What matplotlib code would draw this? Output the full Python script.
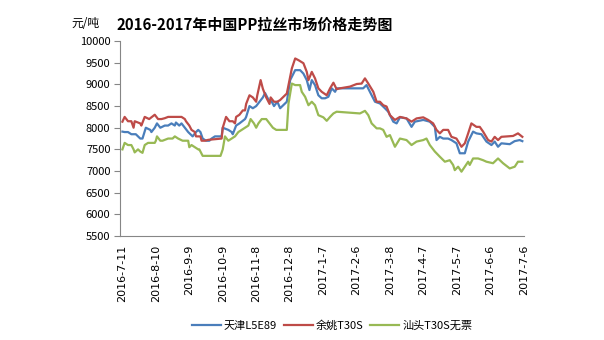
import matplotlib
matplotlib.use('Agg')
import numpy as np
import pandas as pd
import matplotlib.pyplot as plt

plt.rcParams['font.family'] = ['Noto Sans CJK SC', 'DejaVu Sans']

start = pd.Timestamp('2016-07-11')

# 天津L5E89 (days from 2016-7-11, price)
tj_day = [0, 2, 5, 8, 12, 16, 18, 21, 25, 26, 29, 31, 34, 38, 41, 44, 47, 48, 51, 53,
          56, 59, 63, 66, 68, 70, 72, 75, 78, 80, 83, 89, 90, 95, 98, 99, 102, 105, 110, 111,
          114, 117, 120, 123, 126, 128, 131, 134, 136, 139, 141.5, 147.5, 150.5, 155, 159.4, 162.4, 165.4, 167.8, 169.9, 172.8,
          175.8, 178.8, 181.8, 184.8, 187.8, 190.8, 192.2, 216, 219, 223.6, 226.6, 231.1, 235.5, 238.5, 243, 246, 249, 254.9, 259.4, 262.4,
          269.9, 275.8, 280.3, 281.8, 284.8, 287.8, 292.2, 295.2, 299.7, 302.7, 307.2, 310.2, 314.6, 317.6, 322.1, 326.6, 331.1, 334, 337, 340,
          347.5, 351.9, 356.4, 358.8]
tj_val = [7910, 7900, 7900, 7850, 7850, 7750, 7750, 8000, 7950, 7900, 8000, 8100, 8000, 8050, 8050, 8100, 8050, 8120, 8050, 8100,
          8000, 7900, 7800, 7900, 7950, 7900, 7750, 7700, 7700, 7750, 7800, 7800, 8000, 7950, 7900, 7850, 8050, 8100, 8200, 8250,
          8500, 8450, 8500, 8600, 8700, 8800, 8650, 8600, 8500, 8600, 8450, 8600, 9100, 9330, 9330, 9250, 9100, 8870, 9100, 8985,
          8750, 8680, 8680, 8715, 8910, 8830, 8910, 8910, 8985, 8750, 8600, 8560, 8450, 8370, 8140, 8100, 8240, 8215, 8020, 8140,
          8180, 8140, 8020, 7715, 7790, 7750, 7750, 7715, 7640, 7410, 7410, 7680, 7910, 7870, 7850, 7680, 7600, 7680, 7560, 7640,
          7620, 7690, 7715, 7690]

# 余姚T30S
yy_day = [0, 2, 5, 8, 10, 11, 16, 17, 20, 24, 29, 32, 35, 38, 41, 53, 56, 57, 60, 62,
          65, 66, 70, 71, 74, 77, 89, 90, 93, 96, 99, 101, 102, 105, 108, 110, 111, 114, 117, 120,
          121, 124, 126, 129, 132, 133, 136, 139, 141.5, 147.5, 152, 155, 158, 162.4, 165.4, 166.9, 169.9, 172.8, 175.8, 178.8,
          183.3, 186.3, 189.3, 192.2, 195.2, 204.2, 210.2, 214.6, 217.6, 220.6, 225.1, 228.1, 231.1, 234, 237, 240, 244.5, 249, 254.9, 259.4,
          263.9, 269.9, 274.3, 278.8, 281.8, 284.8, 287.8, 292.2, 295.2, 299.7, 304.2, 307.2, 310.2, 313.1, 317.6, 320.6, 323.6, 328.1, 331.1, 334,
          337, 340, 350.5, 354.9, 358.8]
yy_val = [8140, 8250, 8150, 8150, 8000, 8150, 8100, 8050, 8250, 8200, 8300, 8200, 8200, 8220, 8250, 8250, 8200, 8150, 8050, 7950,
          7900, 7800, 7800, 7700, 7700, 7720, 7750, 8000, 8250, 8150, 8150, 8100, 8250, 8300, 8400, 8400, 8550, 8750, 8700, 8600,
          8750, 9100, 8900, 8700, 8550, 8700, 8600, 8600, 8640, 8790, 9370, 9600, 9560, 9490, 9290, 9100, 9290, 9140, 8910, 8830,
          8750, 8910, 9040, 8890, 8910, 8950, 9010, 9020, 9140, 9020, 8830, 8600, 8600, 8520, 8490, 8290, 8180, 8250, 8215, 8140,
          8215, 8240, 8180, 8100, 7950, 7870, 7950, 7950, 7790, 7750, 7560, 7640, 7870, 8100, 8020, 8020, 7910, 7715, 7680, 7790,
          7715, 7790, 7810, 7870, 7790]

# 汕头T30S无票
st_day = [0, 2, 5, 8, 10, 11, 14, 16, 18, 20, 23, 29, 30, 31, 34, 36, 41, 45, 47, 50,
          54, 59, 60, 62, 65, 68, 69, 72, 88, 90, 92, 95, 98, 101, 104, 107, 110, 113, 115, 118,
          120, 122, 125, 129, 132, 135, 138, 141.5, 147.5, 149, 152, 155, 159.4, 160.9, 163.9, 166.9, 169.9, 172.8, 175.8, 180.3,
          183.3, 186.3, 189.3, 192.2, 213.1, 217.6, 220.6, 223.6, 228.1, 231.1, 234, 237, 240, 244.5, 249, 254.9, 259.4, 263.9, 269.9, 272.8,
          275.8, 280.3, 284.8, 289.3, 293.7, 296.7, 298.2, 301.2, 304.2, 307.2, 310.2, 311.6, 314.6, 319.1, 323.6, 326.6, 332.5, 337, 341.5, 347.5,
          352, 354.9, 358.8]
st_val = [7500, 7650, 7600, 7600, 7500, 7430, 7500, 7450, 7420, 7600, 7650, 7650, 7700, 7800, 7700, 7700, 7750, 7750, 7800, 7750,
          7700, 7700, 7550, 7600, 7550, 7500, 7500, 7350, 7350, 7500, 7800, 7700, 7750, 7800, 7900, 7950, 8000, 8050, 8200, 8100,
          8000, 8100, 8200, 8200, 8100, 8000, 7950, 7950, 7950, 8560, 9020, 8985, 8985, 8830, 8715, 8520, 8600, 8520, 8290, 8240,
          8160, 8250, 8330, 8370, 8330, 8390, 8290, 8100, 7985, 7985, 7950, 7790, 7830, 7560, 7750, 7715, 7600, 7680, 7715, 7750,
          7600, 7450, 7330, 7215, 7250, 7140, 7020, 7100, 6985, 7100, 7215, 7140, 7290, 7290, 7250, 7215, 7180, 7290, 7180, 7060,
          7100, 7215, 7215]

tick_days = np.arange(0, 361, 30)
tick_labels = [f'{d.year}-{d.month}-{d.day}' for d in (start + pd.to_timedelta(tick_days, unit='D'))]

fig = plt.figure(figsize=(6.04, 3.4), dpi=100)
ax = fig.add_axes([0.199, 0.306, 0.668, 0.573])

ax.plot(tj_day, tj_val, color='#4A7EBB', lw=1.6, label='天津L5E89')
ax.plot(yy_day, yy_val, color='#BE4B48', lw=1.6, label='余姚T30S')
ax.plot(st_day, st_val, color='#98B954', lw=1.6, label='汕头T30S无票')

ax.set_xlim(-2, 359)
ax.set_ylim(5500, 10000)
ax.set_yticks(np.arange(5500, 10001, 500))
ax.set_xticks(tick_days)
ax.set_xticklabels(tick_labels, rotation=90, fontsize=8, family=['DejaVu Sans'])
ax.tick_params(axis='y', labelsize=8, length=4, color='#868686', pad=3)
ax.tick_params(axis='x', length=0, pad=6)

for s in ['top', 'right']:
    ax.spines[s].set_visible(False)
for s in ['left', 'bottom']:
    ax.spines[s].set_color('#868686')

fig.text(0.422, 0.928, '2016-2017年中国PP拉丝市场价格走势图', ha='center', va='center',
         fontsize=10.8, fontweight='bold')
fig.text(0.141, 0.932, '元/吨', ha='center', va='center', fontsize=8.5)

fig.legend(loc='center', bbox_to_anchor=(0.55, 0.043), ncol=3, frameon=False,
           fontsize=8, handlelength=2.6, columnspacing=0.6, handletextpad=0.3)

fig.savefig('out.png', dpi=100)
